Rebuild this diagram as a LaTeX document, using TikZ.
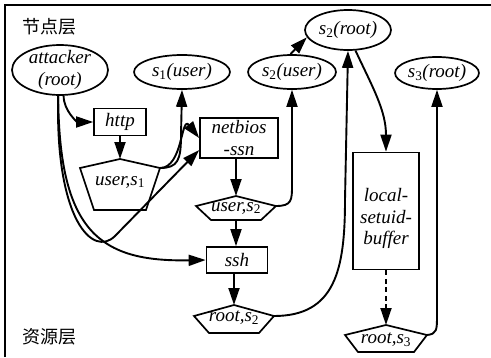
\documentclass[tikz,border=0pt]{standalone}
\usepackage{fontspec}
\setmainfont{Liberation Serif}
\newfontfamily\cjk{Noto Sans CJK SC}
\usetikzlibrary{arrows.meta,shapes.geometric}
\newcommand\fsz{\fontsize{19}{21.5}\selectfont}
\newcommand\sub[1]{\textsubscript{\upshape #1}}
% name, cx, ytop, yshoulder, ybottom, halfwidth, bottom halfwidth, ytext, label
\newcommand\pentnode[9]{%
  \coordinate (#1-top) at (#2,#3);
  \coordinate (#1-left) at ({#2-#6},#4);
  \coordinate (#1-right) at ({#2+#6},#4);
  \coordinate (#1-bl) at ({#2-#7},#5);
  \coordinate (#1-br) at ({#2+#7},#5);
  \coordinate (#1-bottom) at (#2,#5);
  \draw[nodeline] (#1-top) -- (#1-right) -- (#1-br) -- (#1-bl) -- (#1-left) -- cycle;
  \node[lbl] (#1) at (#2,#8) {#9};
}
\tikzset{
  lbl/.style={font=\fsz\itshape, inner sep=0pt, align=center},
  nodeline/.style={line width=1.7pt, line join=miter},
  ell/.style={draw, ellipse, nodeline, lbl, inner sep=-10pt},
  box/.style={draw, rectangle, nodeline, lbl},
  arr/.style={line width=1.9pt, -{Triangle[length=17pt,width=11pt]}},
  layer/.style={font=\cjk\fontsize{18}{20}\selectfont, inner sep=0pt},
}
\begin{document}
\begin{tikzpicture}[x=1pt,y=-1pt]
\useasboundingbox (0,0) rectangle (491,357);
\fill[white] (0,0) rectangle (491,357);
% frame (top and left visible)
\draw[line width=2.2pt] (5,357) -- (5,5) -- (491,5);
\node[layer] (top) at (50,27) {节点层};
\node[layer] (bot) at (50,337) {资源层};

% ellipses
\node[ell, minimum width=96pt, minimum height=50pt] (attacker) at (60,70) {attacker\\(root)};
\node[ell, minimum width=96pt, minimum height=34pt] (s1user) at (182,72) {s\sub{1}(user)};
\node[ell, minimum width=86pt, minimum height=40pt] (s2root) at (348,30) {s\sub{2}(root)};
\node[ell, minimum width=88pt, minimum height=34pt] (s2user) at (292,72) {s\sub{2}(user)};
\node[ell, minimum width=84pt, minimum height=32pt] (s3root) at (437,73) {s\sub{3}(root)};

% boxes
\node[box, minimum width=52pt, minimum height=27pt] (http) at (120,122) {http};
\node[box, minimum width=78pt, minimum height=40pt] (netbios) at (239,138) {netbios\\-ssn};
\node[box, minimum width=61pt, minimum height=26pt] (ssh) at (237,260) {ssh};
\node[box, minimum width=66pt, minimum height=117pt] (lsb) at (386,211) {\rule{0pt}{29pt}local-\\setuid-\\buffer};

% pentagons
\pentnode{u1}{120}{159}{168}{210}{40}{26}{182}{user,s\sub{1}}
\pentnode{u2}{236}{196}{206}{220}{40}{25}{208}{user,s\sub{2}}
\pentnode{r2}{234}{305}{316}{333}{40}{25}{318}{root,s\sub{2}}
\pentnode{r3}{386}{325}{335}{352}{41}{28}{340}{root,s\sub{3}}

% edges
\draw[arr] (attacker.-82) to[out=-90,in=180] (http.west);
\draw[arr] (http.south -| u1-top) -- (u1-top);
\draw[arr] (u1-right) .. controls (178,168) and (181,160) .. (181,135) -- (s1user.south);
\draw[arr] (u1-right) .. controls (183,168) and (181,115) .. (netbios.west);
\draw[arr] (attacker.-94) .. controls (55,220) and (93,258) .. (115,236) -- ([yshift=-12pt]netbios.west);
\draw[arr] (attacker.-94) .. controls (59,232) and (100,262) .. (ssh.west);
\draw[arr] (netbios.south -| u2-top) -- (u2-top);
\draw[arr] (u2-right) .. controls (292,206) and (292,200) .. (292,185) -- (s2user.south);
\draw[arr] (u2-bottom) -- (ssh.north -| u2-bottom);
\draw[arr] (ssh.south -| r2-top) -- (r2-top);
\draw[arr] (r2-right) .. controls (335,316) and (345,270) .. (345,200) -- (s2root.south);
\draw[arr] (s2user.95) -- (s2root.190);
\draw[arr] (s2root.-70) to[out=-65,in=90] (lsb.north);
\draw[arr, dash pattern=on 5pt off 3.5pt] (lsb.south) -- (r3-top);
\draw[arr] (r3-right) .. controls (437,334) and (437,330) .. (437,315) -- (s3root.south);
\end{tikzpicture}
\end{document}
